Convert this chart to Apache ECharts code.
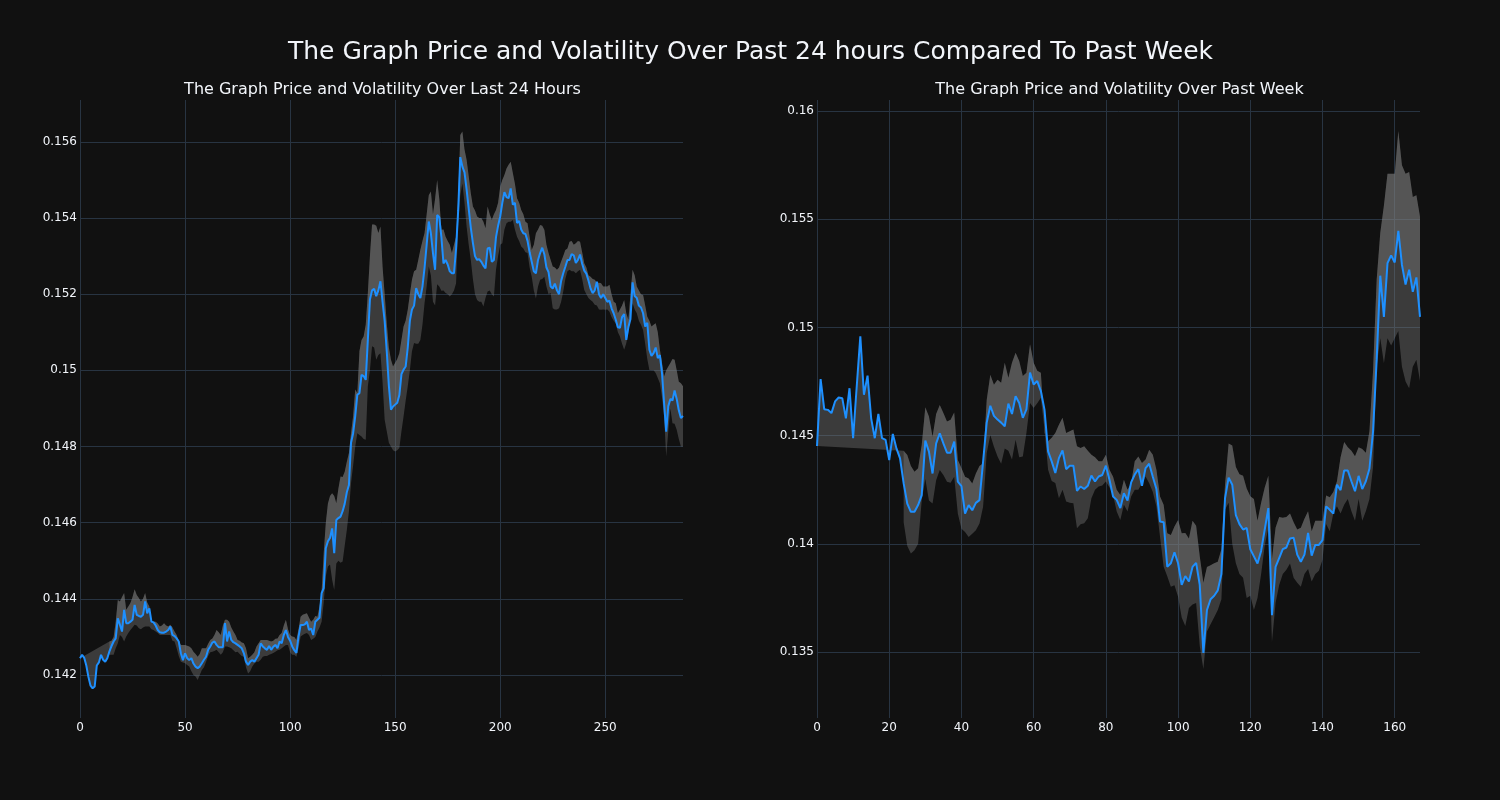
<!DOCTYPE html>
<html>
<head>
<meta charset="utf-8">
<script src="https://cdn.jsdelivr.net/npm/echarts@6/dist/echarts.min.js"></script>
<style>html,body{margin:0;padding:0;background:#111111}#c{width:1500px;height:800px}</style>
</head>
<body>
<div id="c"></div>
<script>
// ---------- DATA ----------
const mainTitle = 'The Graph Price and Volatility Over Past 24 hours Compared To Past Week';
const dayTitle = 'The Graph Price and Volatility Over Last 24 Hours';
const weekTitle = 'The Graph Price and Volatility Over Past Week';

// Last 24 hours (5-minute steps), price
const dayPrice = [
0.14244,0.14253,0.14245,0.14225,0.14195,0.14172,0.14165,0.14170,0.14225,0.14233,
0.14253,0.14240,0.14235,0.14244,0.14262,0.14276,0.14288,0.14296,0.14349,0.14332,
0.14314,0.14371,0.14336,0.14336,0.14340,0.14345,0.14384,0.14358,0.14355,0.14353,
0.14358,0.14393,0.14362,0.14375,0.14340,0.14338,0.14330,0.14318,0.14312,0.14311,
0.14311,0.14314,0.14318,0.14327,0.14305,0.14302,0.14296,0.14288,0.14257,0.14239,
0.14257,0.14244,0.14239,0.14244,0.14230,0.14222,0.14218,0.14222,0.14231,0.14240,
0.14248,0.14266,0.14275,0.14285,0.14288,0.14279,0.14273,0.14273,0.14273,0.14336,
0.14288,0.14314,0.14292,0.14286,0.14283,0.14279,0.14275,0.14270,0.14257,0.14235,
0.14226,0.14235,0.14239,0.14235,0.14244,0.14253,0.14283,0.14275,0.14270,0.14266,
0.14276,0.14266,0.14274,0.14279,0.14270,0.14288,0.14283,0.14305,0.14318,0.14300,
0.14290,0.14275,0.14265,0.14258,0.14300,0.14331,0.14331,0.14333,0.14340,0.14318,
0.14322,0.14305,0.14340,0.14345,0.14350,0.14415,0.14428,0.14533,0.14551,0.14560,
0.14585,0.14520,0.14607,0.14612,0.14616,0.14630,0.14650,0.14680,0.14699,0.14810,
0.14835,0.14880,0.14936,0.14940,0.14988,0.14985,0.14975,0.15080,0.15186,0.15210,
0.15214,0.15195,0.15210,0.15234,0.15180,0.15130,0.15050,0.14960,0.14897,0.14905,
0.14910,0.14915,0.14935,0.14990,0.15002,0.15010,0.15060,0.15130,0.15160,0.15170,
0.15216,0.15200,0.15190,0.15220,0.15270,0.15330,0.15391,0.15360,0.15308,0.15264,
0.15408,0.15402,0.15350,0.15281,0.15290,0.15278,0.15260,0.15255,0.15255,0.15320,
0.15420,0.15560,0.15535,0.15520,0.15475,0.15425,0.15375,0.15335,0.15300,0.15290,
0.15292,0.15285,0.15275,0.15268,0.15320,0.15322,0.15285,0.15290,0.15350,0.15380,
0.15404,0.15440,0.15468,0.15455,0.15452,0.15478,0.15435,0.15440,0.15387,0.15392,
0.15370,0.15360,0.15358,0.15340,0.15310,0.15285,0.15260,0.15255,0.15290,0.15308,
0.15322,0.15305,0.15270,0.15258,0.15220,0.15215,0.15228,0.15210,0.15200,0.15235,
0.15255,0.15272,0.15290,0.15290,0.15305,0.15302,0.15282,0.15290,0.15304,0.15280,
0.15262,0.15254,0.15236,0.15215,0.15203,0.15210,0.15233,0.15200,0.15190,0.15200,
0.15190,0.15180,0.15183,0.15163,0.15150,0.15133,0.15113,0.15112,0.15140,0.15148,
0.15080,0.15113,0.15135,0.15231,0.15195,0.15190,0.15170,0.15165,0.15150,0.15115,
0.15125,0.15054,0.15038,0.15045,0.15060,0.15032,0.15040,0.14993,0.14914,0.14839,
0.14906,0.14925,0.14921,0.14947,0.14925,0.14895,0.14875,0.14880
];

// Last 24 hours, upper band (no value before the window fills)
const dayUpper = [
null,null,null,null,null,null,null,null,null,null,
null,null,null,null,0.14288,0.14290,0.14300,0.14340,0.14397,0.14393,
0.14405,0.14415,0.14371,0.14380,0.14389,0.14405,0.14425,0.14410,0.14402,0.14393,
0.14400,0.14415,0.14390,0.14380,0.14340,0.14340,0.14340,0.14335,0.14327,0.14330,
0.14336,0.14330,0.14327,0.14332,0.14325,0.14314,0.14305,0.14290,0.14279,0.14279,
0.14279,0.14277,0.14275,0.14270,0.14261,0.14255,0.14248,0.14255,0.14270,0.14270,
0.14270,0.14282,0.14292,0.14296,0.14305,0.14318,0.14312,0.14305,0.14330,0.14345,
0.14345,0.14340,0.14325,0.14314,0.14305,0.14292,0.14290,0.14285,0.14283,0.14270,
0.14244,0.14248,0.14253,0.14260,0.14275,0.14283,0.14292,0.14292,0.14292,0.14292,
0.14290,0.14288,0.14290,0.14295,0.14296,0.14305,0.14310,0.14330,0.14345,0.14320,
0.14305,0.14301,0.14300,0.14292,0.14320,0.14353,0.14358,0.14360,0.14362,0.14350,
0.14340,0.14345,0.14355,0.14353,0.14380,0.14419,0.14520,0.14600,0.14650,0.14670,
0.14677,0.14670,0.14651,0.14690,0.14721,0.14720,0.14734,0.14760,0.14783,0.14835,
0.14880,0.14950,0.14940,0.15050,0.15080,0.15089,0.15120,0.15203,0.15300,0.15383,
0.15383,0.15380,0.15361,0.15378,0.15273,0.15200,0.15124,0.15060,0.15028,0.15010,
0.15020,0.15030,0.15045,0.15080,0.15115,0.15130,0.15159,0.15200,0.15238,0.15260,
0.15264,0.15290,0.15317,0.15340,0.15361,0.15410,0.15460,0.15470,0.15410,0.15450,
0.15500,0.15450,0.15369,0.15370,0.15351,0.15340,0.15330,0.15308,0.15330,0.15351,
0.15450,0.15618,0.15627,0.15580,0.15553,0.15510,0.15465,0.15430,0.15420,0.15404,
0.15400,0.15400,0.15390,0.15373,0.15430,0.15410,0.15395,0.15410,0.15421,0.15440,
0.15483,0.15500,0.15513,0.15530,0.15540,0.15548,0.15518,0.15490,0.15452,0.15440,
0.15421,0.15410,0.15390,0.15386,0.15350,0.15316,0.15330,0.15360,0.15370,0.15382,
0.15380,0.15369,0.15330,0.15308,0.15290,0.15273,0.15270,0.15264,0.15270,0.15286,
0.15300,0.15316,0.15320,0.15338,0.15340,0.15330,0.15334,0.15340,0.15338,0.15310,
0.15281,0.15270,0.15250,0.15246,0.15240,0.15238,0.15230,0.15230,0.15229,0.15220,
0.15220,0.15220,0.15225,0.15200,0.15180,0.15176,0.15150,0.15160,0.15170,0.15185,
0.15150,0.15133,0.15200,0.15264,0.15250,0.15220,0.15210,0.15200,0.15198,0.15170,
0.15141,0.15130,0.15115,0.15120,0.15124,0.15100,0.15054,0.15020,0.14984,0.15000,
0.15010,0.15019,0.15030,0.15028,0.15000,0.14970,0.14966,0.14958
];

// Last 24 hours, lower band
const dayLower = [
null,null,null,null,null,null,null,null,null,null,
null,null,null,null,0.14253,0.14253,0.14253,0.14270,0.14283,0.14305,
0.14300,0.14288,0.14301,0.14310,0.14318,0.14325,0.14332,0.14330,0.14323,0.14320,
0.14325,0.14327,0.14327,0.14327,0.14320,0.14318,0.14314,0.14310,0.14305,0.14305,
0.14305,0.14305,0.14305,0.14305,0.14290,0.14288,0.14270,0.14250,0.14235,0.14233,
0.14231,0.14226,0.14222,0.14210,0.14200,0.14196,0.14187,0.14200,0.14213,0.14220,
0.14235,0.14250,0.14260,0.14261,0.14263,0.14266,0.14260,0.14253,0.14260,0.14275,
0.14275,0.14273,0.14270,0.14265,0.14260,0.14261,0.14255,0.14250,0.14248,0.14220,
0.14204,0.14210,0.14222,0.14230,0.14235,0.14235,0.14240,0.14248,0.14250,0.14250,
0.14253,0.14255,0.14258,0.14261,0.14265,0.14266,0.14270,0.14275,0.14279,0.14279,
0.14260,0.14253,0.14253,0.14248,0.14270,0.14301,0.14305,0.14308,0.14310,0.14305,
0.14292,0.14295,0.14300,0.14314,0.14325,0.14340,0.14390,0.14460,0.14485,0.14490,
0.14450,0.14423,0.14493,0.14500,0.14495,0.14498,0.14540,0.14581,0.14630,0.14704,
0.14750,0.14800,0.14835,0.14830,0.14826,0.14820,0.14818,0.14958,0.15000,0.15063,
0.15060,0.15028,0.15040,0.15045,0.14970,0.14870,0.14840,0.14810,0.14800,0.14790,
0.14787,0.14790,0.14796,0.14840,0.14879,0.14920,0.14958,0.15000,0.15050,0.15072,
0.15070,0.15070,0.15080,0.15120,0.15177,0.15220,0.15273,0.15250,0.15180,0.15170,
0.15226,0.15220,0.15209,0.15210,0.15203,0.15200,0.15194,0.15200,0.15210,0.15229,
0.15386,0.15460,0.15491,0.15440,0.15378,0.15330,0.15290,0.15240,0.15200,0.15185,
0.15180,0.15180,0.15168,0.15190,0.15207,0.15210,0.15200,0.15194,0.15264,0.15300,
0.15330,0.15334,0.15370,0.15386,0.15390,0.15390,0.15395,0.15370,0.15351,0.15340,
0.15325,0.15320,0.15310,0.15308,0.15270,0.15246,0.15210,0.15189,0.15220,0.15238,
0.15240,0.15246,0.15220,0.15200,0.15203,0.15163,0.15160,0.15160,0.15163,0.15180,
0.15207,0.15240,0.15260,0.15264,0.15260,0.15260,0.15255,0.15260,0.15264,0.15240,
0.15211,0.15200,0.15190,0.15185,0.15180,0.15172,0.15170,0.15160,0.15159,0.15160,
0.15159,0.15160,0.15154,0.15140,0.15130,0.15123,0.15100,0.15089,0.15070,0.15054,
0.15071,0.15100,0.15150,0.15176,0.15160,0.15150,0.15130,0.15120,0.15106,0.15070,
0.15030,0.15001,0.15000,0.15000,0.14993,0.14980,0.14966,0.14930,0.14879,0.14774,
0.14840,0.14900,0.14861,0.14860,0.14844,0.14820,0.14800,0.14800
];

// Past week (hourly), price
const weekPrice = [
0.14452,0.14761,0.14622,0.14619,0.14604,0.14658,0.14676,0.14673,0.14580,0.14719,
0.14488,0.14727,0.14959,0.14689,0.14777,0.14580,0.14488,0.14600,0.14488,0.14480,
0.14387,0.14508,0.14441,0.14395,0.14279,0.14186,0.14148,0.14148,0.14179,0.14225,
0.14477,0.14426,0.14325,0.14464,0.14511,0.14464,0.14421,0.14421,0.14472,0.14287,
0.14267,0.14140,0.14179,0.14155,0.14189,0.14202,0.14380,0.14560,0.14638,0.14591,
0.14574,0.14560,0.14543,0.14648,0.14600,0.14682,0.14651,0.14582,0.14621,0.14791,
0.14736,0.14752,0.14706,0.14620,0.14427,0.14381,0.14327,0.14396,0.14432,0.14345,
0.14361,0.14361,0.14245,0.14265,0.14253,0.14268,0.14315,0.14288,0.14311,0.14318,
0.14361,0.14296,0.14219,0.14203,0.14165,0.14234,0.14200,0.14284,0.14320,0.14345,
0.14268,0.14350,0.14370,0.14310,0.14253,0.14103,0.14100,0.13894,0.13910,0.13961,
0.13910,0.13810,0.13851,0.13826,0.13893,0.13912,0.13810,0.13496,0.13694,0.13744,
0.13760,0.13785,0.13860,0.14210,0.14306,0.14273,0.14132,0.14091,0.14066,0.14074,
0.13975,0.13942,0.13909,0.13967,0.14066,0.14165,0.13670,0.13893,0.13934,0.13975,
0.13983,0.14025,0.14028,0.13950,0.13917,0.13950,0.14050,0.13945,0.13995,0.13995,
0.14017,0.14173,0.14157,0.14140,0.14273,0.14248,0.14339,0.14339,0.14289,0.14243,
0.14314,0.14253,0.14289,0.14347,0.14520,0.14851,0.15239,0.15049,0.15297,0.15333,
0.15300,0.15446,0.15289,0.15198,0.15267,0.15165,0.15231,0.15049
];

// Past week, upper band
const weekUpper = [
null,null,null,null,null,null,null,null,null,null,
null,null,null,null,null,null,null,null,null,null,
null,null,null,null,0.14430,0.14410,0.14360,0.14333,0.14349,0.14457,
0.14631,0.14588,0.14495,0.14600,0.14642,0.14604,0.14565,0.14573,0.14607,0.14387,
0.14350,0.14310,0.14302,0.14279,0.14325,0.14360,0.14372,0.14665,0.14781,0.14735,
0.14758,0.14744,0.14837,0.14767,0.14837,0.14883,0.14845,0.14775,0.14791,0.14922,
0.14837,0.14800,0.14791,0.14512,0.14474,0.14490,0.14512,0.14550,0.14582,0.14512,
0.14520,0.14528,0.14451,0.14443,0.14451,0.14430,0.14412,0.14400,0.14381,0.14381,
0.14412,0.14342,0.14310,0.14250,0.14226,0.14296,0.14250,0.14280,0.14381,0.14404,
0.14373,0.14390,0.14435,0.14412,0.14342,0.14219,0.14180,0.14049,0.14041,0.14080,
0.14110,0.14049,0.14050,0.14025,0.14107,0.14083,0.13942,0.13820,0.13893,0.13901,
0.13910,0.13917,0.13975,0.14273,0.14463,0.14454,0.14355,0.14322,0.14314,0.14256,
0.14220,0.14207,0.14107,0.14190,0.14260,0.14314,0.13930,0.14074,0.14124,0.14120,
0.14124,0.14140,0.14100,0.14066,0.14074,0.14116,0.14150,0.14058,0.14107,0.14107,
0.14107,0.14223,0.14215,0.14240,0.14289,0.14400,0.14471,0.14446,0.14430,0.14405,
0.14446,0.14438,0.14421,0.14520,0.14800,0.15220,0.15438,0.15562,0.15710,0.15710,
0.15710,0.15908,0.15750,0.15710,0.15718,0.15603,0.15611,0.15512
];

// Past week, lower band
const weekLower = [
null,null,null,null,null,null,null,null,null,null,
null,null,null,null,null,null,null,null,null,null,
null,null,null,null,0.14100,0.13990,0.13955,0.13970,0.14000,0.14200,
0.14300,0.14200,0.14186,0.14294,0.14341,0.14318,0.14287,0.14282,0.14310,0.14140,
0.14070,0.14055,0.14032,0.14047,0.14063,0.14094,0.14171,0.14418,0.14503,0.14449,
0.14403,0.14370,0.14440,0.14430,0.14390,0.14481,0.14400,0.14404,0.14512,0.14651,
0.14628,0.14650,0.14675,0.14528,0.14342,0.14290,0.14281,0.14211,0.14250,0.14196,
0.14190,0.14188,0.14072,0.14090,0.14095,0.14118,0.14211,0.14250,0.14265,0.14270,
0.14288,0.14260,0.14226,0.14149,0.14110,0.14180,0.14149,0.14219,0.14250,0.14250,
0.14280,0.14311,0.14280,0.14240,0.14172,0.14033,0.13894,0.13850,0.13801,0.13809,
0.13755,0.13660,0.13620,0.13703,0.13720,0.13727,0.13529,0.13422,0.13595,0.13628,
0.13661,0.13694,0.13744,0.14157,0.14190,0.14000,0.13910,0.13860,0.13843,0.13750,
0.13760,0.13694,0.13750,0.13860,0.13992,0.14074,0.13546,0.13727,0.13810,0.13860,
0.13880,0.13909,0.13843,0.13820,0.13802,0.13860,0.13884,0.13826,0.13860,0.13876,
0.13926,0.14091,0.14058,0.14140,0.14173,0.14140,0.14180,0.14207,0.14150,0.14107,
0.14207,0.14107,0.14150,0.14207,0.14355,0.14818,0.14950,0.14834,0.14950,0.14917,
0.14950,0.14983,0.14818,0.14750,0.14719,0.14818,0.14851,0.14752
];

// axis ranges
const dayXMax = 287, weekXMax = 167;
const dayYMin = 0.14087, dayYMax = 0.1571;
const weekYMin = 0.13195, weekYMax = 0.16051;

// ---------- STYLE ----------
const FONT = '"DejaVu Sans", Verdana, sans-serif';
const TXT = '#f2f5fa';
const GRIDC = '#283442';
const BAND = 'rgba(128,128,128,0.38)';
const LINE = '#1e90ff';

const chart = echarts.init(document.getElementById('c'), null, {renderer: 'canvas'});

function pairs(arr) { return arr.map((v, i) => [i, v]); }

function bandPolygon(idx, A, B) {
  return {
    type: 'custom', xAxisIndex: idx, yAxisIndex: idx, silent: true, clip: true, z: 1,
    data: [[0, A[0]]],
    encode: {x: 0, y: 1},
    renderItem: function (params, api) {
      const pts = [];
      for (let i = 0; i < A.length; i++) if (A[i] != null) pts.push(api.coord([i, A[i]]));
      for (let i = B.length - 1; i >= 0; i--) if (B[i] != null) pts.push(api.coord([i, B[i]]));
      return {type: 'polygon', shape: {points: pts}, style: {fill: BAND, stroke: null}};
    }
  };
}

function xAxis(idx, max, split) {
  return {
    gridIndex: idx, type: 'value', min: 0, max: max, splitNumber: split,
    axisLine: {show: false}, axisTick: {show: false},
    splitLine: {show: true, showMinLine: true, showMaxLine: false, lineStyle: {color: GRIDC, width: 1}},
    axisLabel: {color: TXT, fontSize: 12, fontFamily: FONT, margin: 4, showMaxLabel: false}
  };
}
function yAxis(idx, min, max, split) {
  return {
    gridIndex: idx, type: 'value', min: min, max: max, splitNumber: split, scale: true,
    axisLine: {show: false}, axisTick: {show: false},
    splitLine: {show: true, showMinLine: false, showMaxLine: false, lineStyle: {color: GRIDC, width: 1}},
    axisLabel: {color: TXT, fontSize: 12, fontFamily: FONT, margin: 3, showMinLabel: false, showMaxLabel: false,
      formatter: v => String(+(+v).toFixed(4))}
  };
}

const option = {
  backgroundColor: '#111111',
  animation: false,
  title: [
    {text: mainTitle, left: 745.5, top: 35, textAlign: 'center',
     textStyle: {color: TXT, fontFamily: FONT, fontSize: 25, fontWeight: 'normal'}},
    {text: dayTitle, left: 377.5, top: 77, textAlign: 'center',
     textStyle: {color: TXT, fontFamily: FONT, fontSize: 16, fontWeight: 'normal'}},
    {text: weekTitle, left: 1114.5, top: 77, textAlign: 'center',
     textStyle: {color: TXT, fontFamily: FONT, fontSize: 16, fontWeight: 'normal'}}
  ],
  grid: [
    {left: 80, top: 100, width: 603, height: 618, containLabel: false},
    {left: 817, top: 100, width: 603, height: 618, containLabel: false}
  ],
  xAxis: [xAxis(0, dayXMax, 5), xAxis(1, weekXMax, 8)],
  yAxis: [yAxis(0, dayYMin, dayYMax, 8), yAxis(1, weekYMin, weekYMax, 6)],
  series: [
    bandPolygon(0, dayPrice, dayUpper),
    bandPolygon(0, dayUpper, dayLower),
    {type: 'line', xAxisIndex: 0, yAxisIndex: 0, data: pairs(dayPrice), showSymbol: false,
     lineStyle: {color: LINE, width: 2}, itemStyle: {color: LINE}, z: 3},
    bandPolygon(1, weekPrice, weekUpper),
    bandPolygon(1, weekUpper, weekLower),
    {type: 'line', xAxisIndex: 1, yAxisIndex: 1, data: pairs(weekPrice), showSymbol: false,
     lineStyle: {color: LINE, width: 2}, itemStyle: {color: LINE}, z: 3}
  ]
};
chart.setOption(option);
</script>
</body>
</html>
